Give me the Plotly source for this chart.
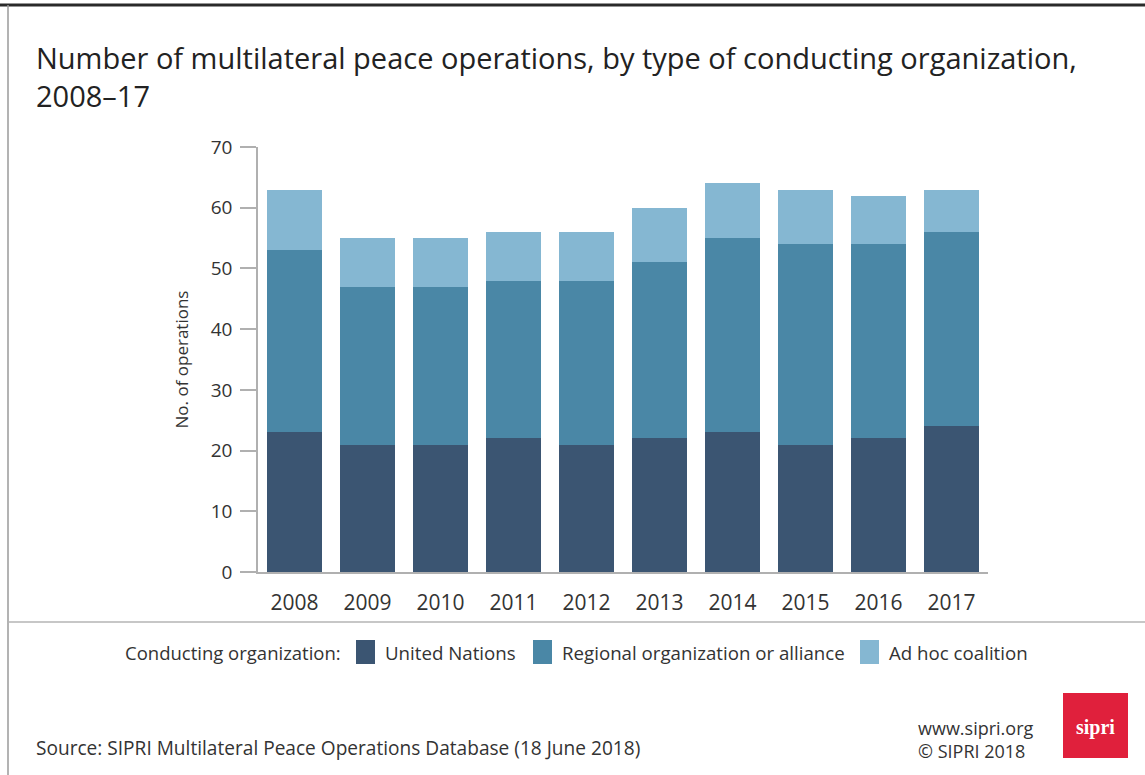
import plotly.graph_objects as go

years = ["2008", "2009", "2010", "2011", "2012", "2013", "2014", "2015", "2016", "2017"]
united_nations = [23, 21, 21, 22, 21, 22, 23, 21, 22, 24]
regional = [30, 26, 26, 26, 27, 29, 32, 33, 32, 32]
ad_hoc = [10, 8, 8, 8, 8, 9, 9, 9, 8, 7]
series_names = ["United Nations", "Regional organization or alliance", "Ad hoc coalition"]
colors = ["#3b5572", "#4a87a6", "#85b7d2"]

W, H = 1145, 775
L, R, T, B = 258, 988, 147, 572  # plot area in pixels


def px(x):
    return (x - L) / (R - L)


def py(y):
    return (B - y) / (B - T)


fig = go.Figure()
for name, vals, col in zip(series_names, [united_nations, regional, ad_hoc], colors):
    fig.add_trace(go.Bar(x=years, y=vals, name=name, marker=dict(color=col, line=dict(width=0)),
                         showlegend=False))

font = "Open Sans, Liberation Sans, Arial, sans-serif"
fig.update_layout(
    width=W, height=H, barmode="stack", bargap=0.26,
    margin=dict(l=L, r=W - R, t=T, b=H - B, pad=0),
    paper_bgcolor="white", plot_bgcolor="white",
    font=dict(family=font, color="#333333"),
    xaxis=dict(showline=True, linecolor="#b0b0b0", linewidth=1.5, ticks="", showgrid=False,
               tickfont=dict(size=21, color="#333333"), range=[-0.5, 9.5], ticklabelstandoff=11),
    yaxis=dict(range=[0, 70], dtick=10, showline=True, linecolor="#b0b0b0", linewidth=1.5,
               ticks="outside", ticklen=16, tickcolor="#b0b0b0", tickwidth=1.5, showgrid=False,
               zeroline=False, tickfont=dict(size=19, color="#333333"), ticklabelstandoff=4,
               title=dict(text="No. of operations", font=dict(size=17, color="#333333"), standoff=18)),
)

shapes = []
# frame lines
shapes.append(dict(type="line", xref="paper", yref="paper", x0=px(0), x1=px(W), y0=py(5), y1=py(5),
                   line=dict(color="#2a2a2a", width=3)))
shapes.append(dict(type="line", xref="paper", yref="paper", x0=px(8), x1=px(8), y0=py(5), y1=py(H),
                   line=dict(color="#9a9a9a", width=1.5)))
shapes.append(dict(type="line", xref="paper", yref="paper", x0=px(8), x1=px(W), y0=py(622), y1=py(622),
                   line=dict(color="#b5b5b5", width=1.5)))

annotations = []
# title
annotations.append(dict(text="Number of multilateral peace operations, by type of conducting organization,<br>2008–17",
                        xref="paper", yref="paper", x=px(34), y=py(36), xanchor="left", yanchor="top",
                        align="left", showarrow=False, font=dict(size=29, color="#222222", family=font)))

# legend
ly = 652
annotations.append(dict(text="Conducting organization:", xref="paper", yref="paper", x=px(123), y=py(ly),
                        xanchor="left", yanchor="middle", showarrow=False,
                        font=dict(size=18.5, color="#333333")))
swatch_x = [356, 533, 860]
for sx, name, col in zip(swatch_x, series_names, colors):
    shapes.append(dict(type="rect", xref="paper", yref="paper", x0=px(sx), x1=px(sx + 19),
                       y0=py(ly - 12), y1=py(ly + 12), fillcolor=col, line=dict(width=0)))
    annotations.append(dict(text=name, xref="paper", yref="paper", x=px(sx + 27), y=py(ly),
                            xanchor="left", yanchor="middle", showarrow=False,
                            font=dict(size=18.7, color="#333333")))

# footer
annotations.append(dict(text="Source: SIPRI Multilateral Peace Operations Database (18 June 2018)",
                        xref="paper", yref="paper", x=px(34), y=py(748), xanchor="left", yanchor="middle",
                        showarrow=False, font=dict(size=19.1, color="#333333")))
annotations.append(dict(text="www.sipri.org<br>© SIPRI 2018", xref="paper", yref="paper", x=px(916), y=py(739),
                        xanchor="left", yanchor="middle", align="left", showarrow=False,
                        font=dict(size=18, color="#333333")))
shapes.append(dict(type="rect", xref="paper", yref="paper", x0=px(1063), x1=px(1128), y0=py(758), y1=py(693),
                   fillcolor="#e0203c", line=dict(width=0)))
annotations.append(dict(text="<b>sipri</b>", xref="paper", yref="paper", x=px(1095.5), y=py(727),
                        xanchor="center", yanchor="middle", showarrow=False,
                        font=dict(size=20, color="white", family="Liberation Serif, DejaVu Serif, serif")))

fig.update_layout(shapes=shapes, annotations=annotations)
fig.write_html("out.html")
